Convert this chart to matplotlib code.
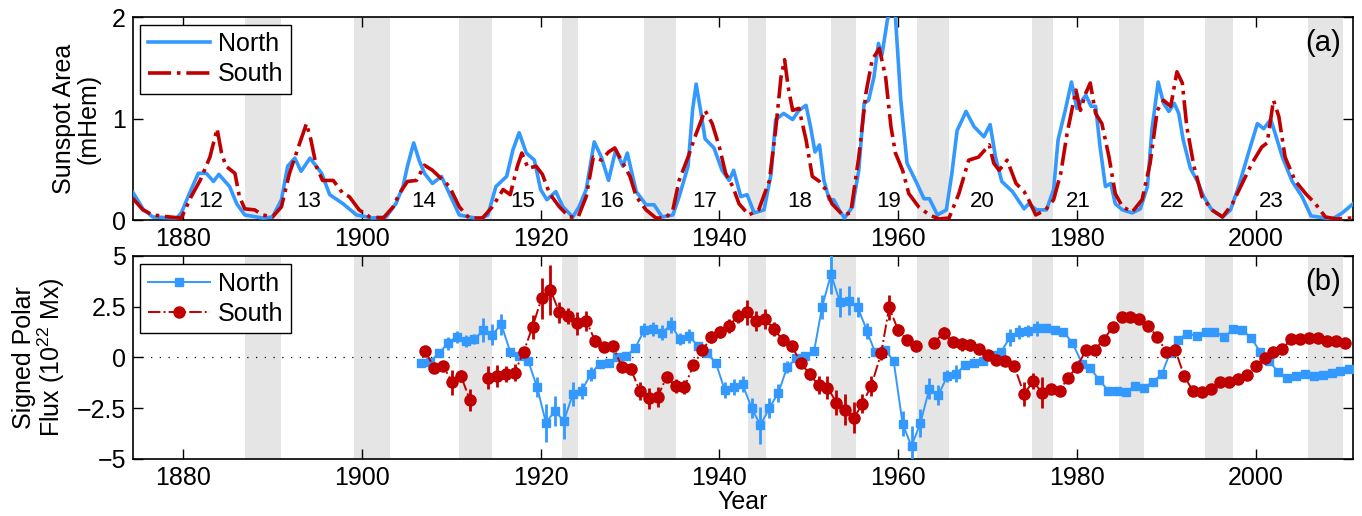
import numpy as np
import matplotlib
matplotlib.use('Agg')
import matplotlib.pyplot as plt
from matplotlib.lines import Line2D

plt.rcParams['font.family'] = ['Liberation Sans', 'DejaVu Sans']
plt.rcParams['mathtext.default'] = 'regular'

BLUE = '#3399ff'
RED = '#c00000'
GRAY = '#e5e5e5'

# smoothed hemispheric sunspot area (mHem)
north_area_yr = [1874.4, 1875.5, 1876.6, 1879.3, 1879.8, 1880.7, 1881.7, 1882.6, 1883.4, 1884.0,
                 1885.2, 1886.0, 1886.9, 1888.9, 1890.0, 1891.0, 1891.7, 1892.5, 1893.2, 1894.2,
                 1895.5, 1896.4, 1897.9, 1899.4, 1901.2, 1902.7, 1903.8, 1904.6, 1905.1, 1905.8,
                 1906.4, 1907.0, 1907.9, 1908.9, 1909.8, 1910.9, 1913.2, 1914.1, 1915.0, 1916.2,
                 1916.9, 1917.6, 1918.4, 1919.3, 1920.0, 1920.7, 1921.7, 1922.5, 1923.6, 1924.3,
                 1925.1, 1926.0, 1926.8, 1927.6, 1928.4, 1929.2, 1929.7, 1930.7, 1931.8, 1932.7,
                 1933.6, 1934.8, 1935.5, 1936.5, 1937.0, 1937.4, 1937.9, 1938.4, 1939.4, 1940.3,
                 1941.1, 1941.6, 1942.4, 1943.1, 1943.9, 1945.0, 1945.8, 1946.3, 1947.2, 1948.2,
                 1948.9, 1949.7, 1950.2, 1950.7, 1951.2, 1951.7, 1952.3, 1952.8, 1953.4, 1954.0,
                 1954.9, 1955.6, 1956.2, 1956.7, 1957.3, 1957.8, 1958.2, 1958.8, 1959.2, 1959.7,
                 1960.3, 1961.0, 1962.0, 1962.9, 1963.5, 1964.4, 1965.4, 1966.0, 1966.6, 1967.6,
                 1968.5, 1969.6, 1970.3, 1970.9, 1971.6, 1972.8, 1974.1, 1974.6, 1975.5, 1976.6,
                 1977.4, 1977.9, 1978.7, 1979.4, 1980.0, 1980.6, 1981.0, 1981.6, 1982.1, 1982.6,
                 1983.2, 1983.8, 1984.3, 1985.1, 1986.2, 1987.1, 1987.9, 1988.4, 1989.1, 1989.7,
                 1990.3, 1990.9, 1991.4, 1991.9, 1992.7, 1993.5, 1994.2, 1995.1, 1996.3, 1997.2,
                 1998.1, 1999.2, 2000.2, 2000.9, 2001.7, 2002.2, 2003.0, 2004.1, 2005.2, 2006.2,
                 2008.6, 2009.7, 2010.9]
north_area = [0.27, 0.11, 0.03, 0.02, 0.07, 0.26, 0.46, 0.46, 0.38, 0.45,
              0.33, 0.16, 0.05, 0.02, 0.03, 0.20, 0.53, 0.61, 0.48, 0.61,
              0.46, 0.25, 0.16, 0.05, 0.02, 0.03, 0.16, 0.33, 0.53, 0.76,
              0.59, 0.46, 0.36, 0.43, 0.26, 0.05, 0.01, 0.05, 0.33, 0.43,
              0.69, 0.86, 0.66, 0.59, 0.30, 0.20, 0.28, 0.13, 0.03, 0.13,
              0.30, 0.77, 0.62, 0.39, 0.69, 0.53, 0.66, 0.28, 0.15, 0.15,
              0.03, 0.05, 0.23, 0.53, 1.08, 1.34, 1.08, 0.80, 0.71, 0.49,
              0.39, 0.49, 0.23, 0.25, 0.07, 0.10, 0.46, 0.99, 1.05, 0.99,
              1.08, 1.13, 0.92, 0.67, 0.74, 0.39, 0.20, 0.20, 0.10, 0.02,
              0.13, 0.49, 1.15, 1.18, 1.41, 1.74, 1.63, 1.97, 2.08, 2.00,
              1.18, 0.56, 0.38, 0.21, 0.21, 0.05, 0.10, 0.45, 0.88, 1.07,
              0.92, 0.82, 0.94, 0.62, 0.38, 0.28, 0.11, 0.16, 0.10, 0.10,
              0.30, 0.79, 1.08, 1.36, 1.10, 1.18, 1.23, 1.12, 1.12, 0.72,
              0.33, 0.36, 0.16, 0.10, 0.07, 0.11, 0.33, 0.89, 1.36, 1.15,
              1.07, 1.15, 1.05, 0.79, 0.51, 0.38, 0.23, 0.10, 0.03, 0.10,
              0.33, 0.66, 0.95, 0.90, 0.99, 0.85, 0.62, 0.38, 0.23, 0.04,
              0.01, 0.07, 0.16]

south_area_yr = [1874.4, 1875.5, 1876.6, 1878.5, 1879.8, 1880.9, 1881.9, 1883.0, 1883.8, 1884.3,
                 1884.8, 1885.8, 1886.3, 1886.9, 1888.0, 1888.9, 1890.0, 1891.0, 1891.9, 1892.9,
                 1893.8, 1894.3, 1894.9, 1895.6, 1896.8, 1897.9, 1898.6, 1899.7, 1900.9, 1902.4,
                 1903.5, 1904.2, 1905.1, 1906.1, 1907.0, 1907.9, 1909.1, 1909.8, 1910.9, 1912.0,
                 1913.5, 1914.6, 1915.8, 1916.6, 1917.4, 1917.9, 1918.6, 1919.5, 1920.2, 1921.0,
                 1922.1, 1923.2, 1924.2, 1925.1, 1925.9, 1926.8, 1927.6, 1928.3, 1929.2, 1930.0,
                 1930.7, 1931.8, 1932.9, 1934.0, 1934.8, 1935.5, 1936.5, 1937.4, 1938.4, 1939.2,
                 1940.0, 1940.7, 1941.5, 1942.2, 1943.3, 1944.4, 1945.6, 1946.3, 1946.9, 1947.3,
                 1947.7, 1948.2, 1948.9, 1949.7, 1950.4, 1951.2, 1951.9, 1952.6, 1953.8, 1954.7,
                 1955.6, 1956.4, 1957.1, 1957.9, 1958.6, 1959.2, 1959.7, 1960.5, 1961.2, 1962.3,
                 1963.5, 1964.6, 1965.7, 1966.8, 1967.9, 1969.0, 1970.2, 1970.7, 1971.3, 1972.2,
                 1973.2, 1974.1, 1974.6, 1975.4, 1976.5, 1977.4, 1978.2, 1978.9, 1979.9, 1980.4,
                 1981.0, 1981.5, 1982.1, 1982.8, 1983.6, 1984.3, 1985.1, 1986.2, 1987.3, 1988.2,
                 1989.0, 1989.7, 1990.5, 1991.2, 1991.8, 1992.3, 1993.1, 1994.0, 1995.1, 1996.3,
                 1997.4, 1998.5, 1999.6, 2000.7, 2001.3, 2002.0, 2002.6, 2003.3, 2004.4, 2005.6,
                 2006.7, 2007.8, 2009.1, 2010.8]
south_area = [0.21, 0.10, 0.05, 0.03, 0.02, 0.23, 0.39, 0.62, 0.90, 0.66,
              0.53, 0.46, 0.23, 0.11, 0.10, 0.05, 0.03, 0.13, 0.46, 0.72,
              0.95, 0.79, 0.53, 0.39, 0.39, 0.26, 0.23, 0.10, 0.03, 0.02,
              0.13, 0.26, 0.38, 0.39, 0.54, 0.49, 0.39, 0.33, 0.13, 0.02,
              0.02, 0.13, 0.30, 0.25, 0.53, 0.66, 0.51, 0.53, 0.45, 0.26,
              0.13, 0.03, 0.03, 0.23, 0.62, 0.59, 0.67, 0.71, 0.56, 0.43,
              0.23, 0.10, 0.02, 0.02, 0.10, 0.39, 0.62, 0.85, 1.08, 0.95,
              0.72, 0.46, 0.33, 0.16, 0.05, 0.10, 0.39, 0.89, 1.41, 1.58,
              1.31, 1.08, 1.10, 0.79, 0.43, 0.38, 0.30, 0.16, 0.05, 0.07,
              0.62, 1.25, 1.58, 1.69, 1.41, 0.92, 0.66, 0.49, 0.26, 0.13,
              0.05, 0.01, 0.02, 0.26, 0.59, 0.62, 0.74, 0.56, 0.49, 0.59,
              0.36, 0.28, 0.20, 0.05, 0.10, 0.20, 0.46, 0.85, 1.28, 1.08,
              1.25, 1.35, 1.05, 0.95, 0.62, 0.26, 0.13, 0.08, 0.20, 0.56,
              1.08, 1.18, 1.12, 1.46, 1.35, 0.92, 0.53, 0.23, 0.10, 0.03,
              0.16, 0.36, 0.56, 0.72, 0.76, 1.18, 1.02, 0.62, 0.39, 0.26,
              0.16, 0.03, 0.01, 0.02]

# signed polar flux (1e22 Mx) with uncertainties
north_flux_yr = [1906.6, 1907.6, 1908.6, 1909.6, 1910.6, 1911.6, 1912.6, 1913.6, 1914.6, 1915.6,
                 1916.6, 1917.6, 1918.6, 1919.6, 1920.6, 1921.6, 1922.6, 1923.6, 1924.6, 1925.6,
                 1926.6, 1927.6, 1928.6, 1929.6, 1930.6, 1931.6, 1932.6, 1933.6, 1934.6, 1935.6,
                 1936.6, 1937.6, 1938.6, 1939.6, 1940.6, 1941.6, 1942.6, 1943.6, 1944.6, 1945.6,
                 1946.6, 1947.6, 1948.6, 1949.6, 1950.6, 1951.5, 1952.5, 1953.5, 1954.5, 1955.5,
                 1956.5, 1957.4, 1958.5, 1959.5, 1960.5, 1961.5, 1962.5, 1963.5, 1964.5, 1965.5,
                 1966.5, 1967.5, 1968.5, 1969.5, 1970.5, 1971.5, 1972.5, 1973.5, 1974.5, 1975.5,
                 1976.5, 1977.5, 1978.5, 1979.5, 1980.6, 1981.5, 1982.5, 1983.5, 1984.5, 1985.5,
                 1986.5, 1987.5, 1988.5, 1989.5, 1990.4, 1991.3, 1992.3, 1993.4, 1994.4, 1995.4,
                 1996.5, 1997.5, 1998.5, 1999.5, 2000.5, 2001.5, 2002.5, 2003.5, 2004.5, 2005.5,
                 2006.5, 2007.5, 2008.5, 2009.5, 2010.5]
north_flux = [-0.25, -0.20, 0.20, 0.69, 1.02, 0.80, 0.90, 1.35, 1.13, 1.63,
              0.28, 0.07, -0.16, -1.45, -3.22, -2.63, -3.13, -1.81, -1.64, -0.82,
              -0.30, -0.26, 0.03, 0.08, 0.48, 1.35, 1.40, 1.23, 1.60, 0.90,
              1.07, 0.56, 0.20, -0.25, -1.61, -1.45, -1.32, -2.48, -3.34, -2.48,
              -1.74, -0.46, -0.05, 0.08, 0.31, 2.50, 4.11, 2.71, 2.80, 2.47,
              1.32, 0.28, 0.39, -0.16, -3.26, -4.38, -3.22, -1.53, -1.86, -0.92,
              -0.79, -0.38, -0.26, -0.18, 0.12, 0.25, 0.99, 1.27, 1.32, 1.43,
              1.46, 1.35, 1.27, 0.72, -0.30, -0.54, -1.09, -1.64, -1.64, -1.69,
              -1.41, -1.48, -1.20, -0.82, 0.20, 0.86, 1.18, 1.07, 1.27, 1.27,
              1.02, 1.38, 1.35, 0.97, 0.28, -0.16, -0.71, -1.00, -0.92, -0.82,
              -0.92, -0.84, -0.76, -0.66, -0.58]
north_err = [0.1, 0.1, 0.1, 0.3, 0.3, 0.3, 0.25, 0.6, 0.5, 0.5,
             0.1, 0.1, 0.1, 0.5, 0.95, 0.75, 0.9, 0.6, 0.4, 0.35,
             0.2, 0.2, 0.15, 0.1, 0.15, 0.35, 0.35, 0.35, 0.4, 0.3,
             0.35, 0.2, 0.2, 0.15, 0.4, 0.4, 0.4, 0.5, 0.9, 0.5,
             0.45, 0.3, 0.2, 0.1, 0.1, 0.6, 1.0, 0.7, 0.7, 0.5,
             0.4, 0.1, 0.1, 0.1, 0.6, 1.0, 0.7, 0.5, 0.5, 0.3,
             0.4, 0.15, 0.1, 0.1, 0.1, 0.1, 0.4, 0.35, 0.3, 0.35,
             0.1, 0.1, 0.1, 0.1, 0.1, 0.1, 0.1, 0.1, 0.1, 0.1,
             0.1, 0.1, 0.1, 0.1, 0.1, 0.1, 0.1, 0.1, 0.1, 0.1,
             0.1, 0.1, 0.1, 0.15, 0.15, 0.15, 0.1, 0.15, 0.15, 0.1,
             0.15, 0.1, 0.1, 0.1, 0.1]

south_flux_yr = [1907.1, 1908.1, 1909.1, 1910.1, 1911.1, 1912.1, 1913.1, 1914.1, 1915.1, 1916.1,
                 1917.1, 1918.1, 1919.1, 1920.1, 1921.1, 1922.1, 1923.1, 1924.1, 1925.1, 1926.1,
                 1927.1, 1928.1, 1929.1, 1930.1, 1931.1, 1932.1, 1933.1, 1934.1, 1935.1, 1936.1,
                 1937.1, 1938.1, 1939.1, 1940.1, 1941.1, 1942.1, 1943.1, 1944.1, 1945.1, 1946.1,
                 1947.1, 1948.1, 1949.1, 1950.1, 1951.1, 1952.1, 1953.1, 1954.1, 1955.1, 1956.0,
                 1957.0, 1958.1, 1959.0, 1960.0, 1961.0, 1962.0, 1963.0, 1964.0, 1965.1, 1966.1,
                 1967.1, 1968.0, 1969.0, 1970.1, 1971.0, 1972.0, 1973.0, 1974.1, 1975.1, 1976.1,
                 1977.1, 1978.1, 1979.0, 1980.0, 1981.0, 1982.0, 1983.0, 1984.0, 1985.0, 1986.0,
                 1987.0, 1988.0, 1989.0, 1990.0, 1991.0, 1992.0, 1993.0, 1994.0, 1995.0, 1996.0,
                 1997.0, 1998.0, 1999.0, 2000.0, 2001.0, 2002.0, 2003.0, 2004.0, 2005.0, 2006.0,
                 2007.0, 2008.0, 2009.0, 2010.0]
south_flux = [0.33, -0.54, -0.41, -1.23, -0.92, -2.11, np.nan, -0.99, -0.92, -0.82,
              -0.74, 0.28, 1.51, 2.91, 3.32, 2.22, 2.04, 1.68, 1.81, 0.82,
              0.53, 0.56, -0.49, -0.58, -1.64, -2.02, -1.94, -0.95, -1.40, -1.45,
              -0.38, 0.36, 0.99, 1.27, 1.56, 2.06, 2.22, 1.79, 1.89, 1.40,
              0.86, 0.58, -0.26, -0.82, -1.37, -1.48, -2.22, -2.57, -2.96, -2.27,
              -1.40, 0.20, 2.47, 1.35, 0.86, 0.56, np.nan, 0.72, 1.22, 0.77,
              0.64, 0.61, 0.44, 0.12, -0.13, -0.18, -0.43, -1.81, -1.17, -1.73,
              -1.56, -1.64, -0.99, -0.49, 0.36, 0.39, 0.86, 1.51, 1.97, 2.01,
              1.92, 1.55, 1.02, 0.28, 0.39, -0.90, -1.66, -1.69, -1.56, -1.23,
              -1.20, -1.04, -0.87, -0.41, -0.05, 0.28, 0.44, 0.90, 0.92, 0.97,
              0.97, 0.82, 0.82, 0.72]
south_err = [0.2, 0.2, 0.15, 0.6, 0.3, 0.55, 0.0, 0.55, 0.55, 0.4,
             0.4, 0.2, 0.6, 1.0, 1.25, 0.5, 0.4, 0.55, 0.5, 0.3,
             0.2, 0.2, 0.2, 0.2, 0.45, 0.5, 0.5, 0.25, 0.35, 0.35,
             0.1, 0.1, 0.3, 0.3, 0.35, 0.35, 0.6, 0.5, 0.5, 0.35,
             0.3, 0.2, 0.1, 0.3, 0.45, 0.55, 0.6, 0.75, 0.75, 0.45,
             0.5, 0.3, 0.6, 0.3, 0.2, 0.2, 0.0, 0.2, 0.3, 0.25,
             0.3, 0.3, 0.2, 0.1, 0.1, 0.1, 0.1, 0.6, 0.4, 0.75,
             0.1, 0.1, 0.1, 0.1, 0.1, 0.1, 0.1, 0.1, 0.1, 0.1,
             0.1, 0.1, 0.1, 0.1, 0.1, 0.1, 0.1, 0.1, 0.1, 0.1,
             0.1, 0.25, 0.15, 0.2, 0.25, 0.15, 0.15, 0.1, 0.1, 0.1,
             0.1, 0.1, 0.1, 0.1]

# cycle minima (shaded) and cycle numbers
min_start = [1886.9, 1899.1, 1910.9, 1922.4, 1931.6, 1943.2, 1952.5, 1962.1, 1975.0, 1984.7, 1994.3, 2005.9]
min_end = [1890.9, 1903.1, 1914.6, 1924.2, 1935.1, 1945.2, 1955.3, 1965.7, 1977.3, 1987.5, 1997.5, 2009.8]
cycle_num = ['12', '13', '14', '15', '16', '17', '18', '19', '20', '21', '22', '23']
cycle_pos = [1883.1, 1894.0, 1906.9, 1918.0, 1927.9, 1938.4, 1949.0, 1958.9, 1969.4, 1980.2, 1990.7, 2001.7]

xlim = (1874.4, 2010.9)
fs = 18

fig = plt.figure(figsize=(13.62, 5.16), dpi=100)
ax1 = fig.add_axes([0.0977, 0.5736, 0.8957, 0.3934])
ax2 = fig.add_axes([0.0977, 0.1105, 0.8957, 0.3934])

for ax in (ax1, ax2):
    for s, e in zip(min_start, min_end):
        ax.axvspan(s, e, color=GRAY, lw=0, zorder=0)
    ax.set_xlim(*xlim)
    ax.set_xticks([1880, 1900, 1920, 1940, 1960, 1980, 2000])
    ax.tick_params(direction='in', top=True, right=True, length=7, width=1, labelsize=fs, pad=5)
    for sp in ax.spines.values():
        sp.set_linewidth(1.2)

legend_kw = dict(loc='upper left', fontsize=fs, fancybox=False, edgecolor='k', framealpha=1,
                 handlelength=2.5, handletextpad=0.3, borderpad=0.3, labelspacing=0.25,
                 borderaxespad=0)

# (a) sunspot area
ax1.plot(north_area_yr, north_area, color=BLUE, lw=2.6, label='North', zorder=3)
ax1.plot(south_area_yr, south_area, color=RED, lw=2.6, ls='-.', label='South', zorder=3)
for lab, xp in zip(cycle_num, cycle_pos):
    ax1.text(xp, 0.18, lab, ha='center', va='center', fontsize=16, zorder=4)
ax1.set_ylim(0, 2)
ax1.set_yticks([0, 1, 2])
ax1.set_ylabel('Sunspot Area\n(mHem)', fontsize=fs, linespacing=1.0)
ax1.yaxis.set_label_coords(-0.027, 0.5)
ax1.text(0.99, 0.87, '(a)', transform=ax1.transAxes, ha='right', va='center', fontsize=21)
leg1 = ax1.legend(bbox_to_anchor=(0.006, 0.962), **legend_kw)
leg1.get_frame().set_linewidth(1.0)

# (b) signed polar flux
ax2.axhline(0, color='k', lw=0.9, ls=(0, (1, 6)), zorder=1)
ax2.errorbar(north_flux_yr, north_flux, yerr=north_err, color=BLUE, ecolor=BLUE, lw=1.4,
             elinewidth=2, marker='s', ms=6, capsize=0, zorder=3)
ax2.errorbar(south_flux_yr, south_flux, yerr=south_err, color=RED, ecolor=RED, lw=1.4,
             ls='-.', elinewidth=2, marker='o', ms=8, capsize=0, zorder=3)
ax2.set_ylim(-5, 5)
ax2.set_yticks([-5, -2.5, 0, 2.5, 5])
ax2.set_yticklabels(['\u22125', '\u22122.5', '0', '2.5', '5'])
ax2.set_ylabel('Signed Polar\nFlux (10$^{22}$ Mx)', fontsize=fs, linespacing=1.0)
ax2.yaxis.set_label_coords(-0.054, 0.5)
ax2.set_xlabel('Year', fontsize=fs, labelpad=0)
ax2.text(0.99, 0.873, '(b)', transform=ax2.transAxes, ha='right', va='center', fontsize=21)
handles = [Line2D([], [], color=BLUE, lw=1.4, marker='s', ms=6),
           Line2D([], [], color=RED, lw=1.4, ls='-.', marker='o', ms=8)]
leg2 = ax2.legend(handles, ['North', 'South'], bbox_to_anchor=(0.006, 0.96), **legend_kw)
leg2.get_frame().set_linewidth(1.0)

fig.savefig('out.png', dpi=100)
